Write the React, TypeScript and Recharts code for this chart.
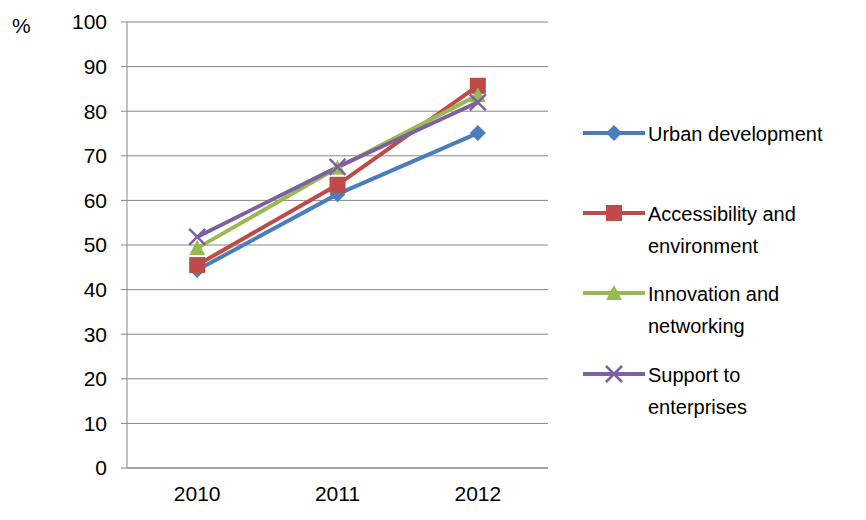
import { LineChart, Line, XAxis, YAxis, CartesianGrid } from 'recharts'

document.body.style.margin = '0'

const years = ['2010', '2011', '2012']
const urban = [44.4, 61.4, 75.1]
const access = [45.5, 63.5, 85.7]
const innovation = [49.3, 67.3, 83.6]
const support = [51.8, 67.5, 82.0]
const yTicks = [0, 10, 20, 30, 40, 50, 60, 70, 80, 90, 100]

const SERIES = [
  { key: 'urban', label: ['Urban development'], color: '#4A7EBB', shape: 'diamond' },
  { key: 'access', label: ['Accessibility and', 'environment'], color: '#BE4B48', shape: 'square' },
  { key: 'innovation', label: ['Innovation and', 'networking'], color: '#98B954', shape: 'triangle' },
  { key: 'support', label: ['Support to', 'enterprises'], color: '#7D60A0', shape: 'cross' },
]

const data = years.map((y, i) => ({
  year: y,
  urban: urban[i],
  access: access[i],
  innovation: innovation[i],
  support: support[i],
}))

const FONT = '"Liberation Sans", Arial, sans-serif'

function Marker({ cx, cy, shape, color }: any) {
  if (cx == null || cy == null) return null
  if (shape === 'diamond')
    return <polygon points={`${cx},${cy - 8} ${cx + 8},${cy} ${cx},${cy + 8} ${cx - 8},${cy}`} fill={color} />
  if (shape === 'square') return <rect x={cx - 8} y={cy - 8} width={16} height={16} fill={color} />
  if (shape === 'triangle')
    return <polygon points={`${cx},${cy - 8} ${cx + 8},${cy + 7} ${cx - 8},${cy + 7}`} fill={color} />
  return (
    <g stroke={color} strokeWidth={2.5}>
      <line x1={cx - 8} y1={cy - 8} x2={cx + 8} y2={cy + 8} />
      <line x1={cx - 8} y1={cy + 8} x2={cx + 8} y2={cy - 8} />
    </g>
  )
}

const LEGEND_Y = [133, 213, 293, 374]

function LegendBox() {
  return (
    <svg width={866} height={520} style={{ position: 'absolute', left: 0, top: 0, pointerEvents: 'none' }}>
      {SERIES.map((s, i) => {
        const y = LEGEND_Y[i]
        return (
          <g key={s.key}>
            <line x1={583} y1={y} x2={645} y2={y} stroke={s.color} strokeWidth={4} />
            <Marker cx={614} cy={y} shape={s.shape} color={s.color} />
            {s.label.map((t, j) => (
              <text key={j} x={648} y={y + 8 + j * 32} fontSize={20} fontFamily={FONT} fill="#000">
                {t}
              </text>
            ))}
          </g>
        )
      })}
    </svg>
  )
}

export default function App() {
  return (
    <div style={{ position: 'relative', width: 866, height: 520, background: '#fff' }}>
      <LineChart width={866} height={520} data={data} margin={{ top: 22, right: 318, bottom: 0, left: 0 }}>
        <CartesianGrid vertical={false} stroke="#868686" />
        <XAxis
          dataKey="year"
          scale="band"
          height={52}
          stroke="#868686"
          tickLine={false}
          tick={{ fontSize: 21, fill: '#000', fontFamily: FONT }}
          tickMargin={12}
        />
        <YAxis
          width={127}
          domain={[0, 100]}
          ticks={yTicks}
          interval={0}
          stroke="#868686"
          tickSize={6}
          tickMargin={14}
          tick={{ fontSize: 21, fill: '#000', fontFamily: FONT }}
        />
        {SERIES.map((s) => (
          <Line
            key={s.key}
            dataKey={s.key}
            stroke={s.color}
            strokeWidth={4}
            isAnimationActive={false}
            dot={(p: any) => <Marker key={p.index} cx={p.cx} cy={p.cy} shape={s.shape} color={s.color} />}
          />
        ))}
      </LineChart>
      <LegendBox />
      <div style={{ position: 'absolute', left: 12, top: 14, fontSize: 21, fontFamily: FONT }}>%</div>
    </div>
  )
}
